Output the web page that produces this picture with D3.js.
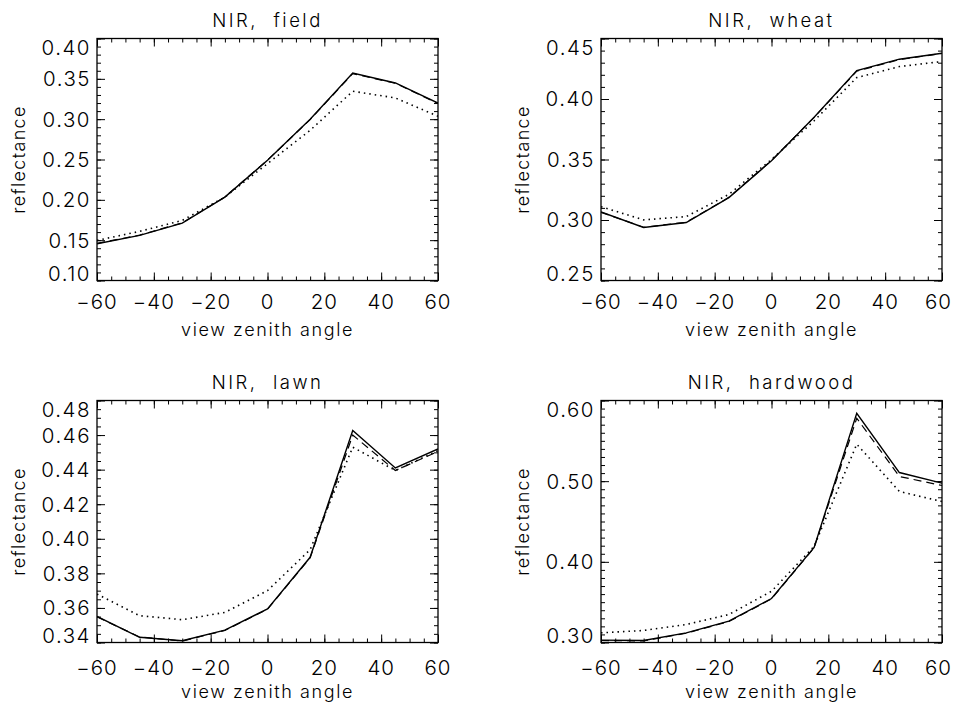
<!DOCTYPE html>
<html>
<head>
<meta charset="utf-8">
<script src="https://cdn.jsdelivr.net/npm/d3@7"></script>
<style>
  html, body { margin: 0; padding: 0; background: #fff; }
  svg { display: block; font-family: "Inter", "DejaVu Sans", sans-serif; font-weight: 300; }
  .tick line { stroke: #000; stroke-width: 1; }
</style>
</head>
<body>
<svg id="chart" width="954" height="707"></svg>
<script>
// View zenith angles (degrees) shared by every panel
const angles = [-60, -45, -30, -15, 0, 15, 30, 45, 60];
const xTickLabels = ["\u221260", "\u221240", "\u221220", "0", "20", "40", "60"];

// NIR reflectance, field
const fieldSolid  = [0.1456, 0.1559, 0.1712, 0.2034, 0.2490, 0.3000, 0.3573, 0.3449, 0.3200];
const fieldDashed = [0.1460, 0.1562, 0.1715, 0.2036, 0.2492, 0.2995, 0.3565, 0.3445, 0.3195];
const fieldDotted = [0.1497, 0.1609, 0.1745, 0.2034, 0.2449, 0.2862, 0.3346, 0.3263, 0.3036];
const fieldYTicks = ["0.10", "0.15", "0.20", "0.25", "0.30", "0.35", "0.40"];

// NIR reflectance, wheat
const wheatSolid  = [0.3066, 0.2938, 0.2979, 0.3185, 0.3490, 0.3850, 0.4235, 0.4329, 0.4378];
const wheatDashed = [0.3064, 0.2940, 0.2981, 0.3187, 0.3492, 0.3848, 0.4230, 0.4326, 0.4376];
const wheatDotted = [0.3110, 0.3001, 0.3028, 0.3212, 0.3500, 0.3820, 0.4177, 0.4268, 0.4310];
const wheatYTicks = ["0.25", "0.30", "0.35", "0.40", "0.45"];

// NIR reflectance, lawn
const lawnSolid  = [0.3551, 0.3430, 0.3410, 0.3472, 0.3594, 0.3893, 0.4626, 0.4410, 0.4520];
const lawnDashed = [0.3548, 0.3432, 0.3408, 0.3470, 0.3592, 0.3890, 0.4600, 0.4395, 0.4505];
const lawnDotted = [0.3680, 0.3555, 0.3532, 0.3574, 0.3700, 0.3937, 0.4530, 0.4395, 0.4510];
const lawnYTicks = ["0.34", "0.36", "0.38", "0.40", "0.42", "0.44", "0.46", "0.48"];

// NIR reflectance, hardwood
const hardwoodSolid  = [0.3030, 0.3025, 0.3120, 0.3264, 0.3545, 0.4179, 0.5842, 0.5107, 0.4976];
const hardwoodDashed = [0.3025, 0.3020, 0.3115, 0.3260, 0.3540, 0.4175, 0.5780, 0.5058, 0.4946];
const hardwoodDotted = [0.3120, 0.3149, 0.3223, 0.3347, 0.3635, 0.4192, 0.5458, 0.4872, 0.4748];
const hardwoodYTicks = ["0.30", "0.40", "0.50", "0.60"];

const W = 341, H = 242;
const TICK_FONT = 20.5, TITLE_FONT = 18.5, LABEL_FONT = 18;
const PAGE_W = 954;

const panels = [
  { title: "NIR,  field",    left: 97,  top: 38.5,  yLabels: fieldYTicks,    yMinor: 0.01,
    solid: fieldSolid, dashed: fieldDashed, dotted: fieldDotted },
  { title: "NIR,  wheat",    left: 601, top: 38.5,  yLabels: wheatYTicks,    yMinor: 0.01,
    solid: wheatSolid, dashed: wheatDashed, dotted: wheatDotted },
  { title: "NIR,  lawn",     left: 97,  top: 400.5, yLabels: lawnYTicks,     yMinor: 0.005,
    solid: lawnSolid, dashed: lawnDashed, dotted: lawnDotted },
  { title: "NIR,  hardwood", left: 601, top: 400.5, yLabels: hardwoodYTicks, yMinor: 0.01,
    solid: hardwoodSolid, dashed: hardwoodDashed, dotted: hardwoodDotted }
];

const svg = d3.select("#chart");

panels.forEach((p, i) => {
  const yMajor = p.yLabels.map(Number);
  const yDomain = [yMajor[0], yMajor[yMajor.length - 1]];
  const xMajor = xTickLabels.map(s => +s.replace("\u2212", "-"));

  const x = d3.scaleLinear().domain([-60, 60]).range([0, W]);
  const y = d3.scaleLinear().domain(yDomain).range([H, 0]);

  const g = svg.append("g").attr("transform", `translate(${p.left},${p.top})`);

  const xMinor = d3.range(-60, 60.001, 5);
  const nMinor = Math.round((yDomain[1] - yDomain[0]) / p.yMinor);
  const yMinorVals = d3.range(0, nMinor + 1).map(k => yDomain[0] + k * p.yMinor);

  // inward ticks on all four sides: minor then major
  const addAxis = (axis, transform) => {
    const a = g.append("g").attr("transform", transform).call(axis);
    a.select(".domain").remove();
    a.selectAll("text").remove();
    return a;
  };
  [[xMinor, 4], [xMajor, 8]].forEach(([vals, len]) => {
    addAxis(d3.axisTop(x).tickValues(vals).tickSize(len).tickFormat(""), `translate(0,${H})`);
    addAxis(d3.axisBottom(x).tickValues(vals).tickSize(len).tickFormat(""), "translate(0,0)");
  });
  [[yMinorVals, 4], [yMajor, 8]].forEach(([vals, len]) => {
    addAxis(d3.axisRight(y).tickValues(vals).tickSize(len).tickFormat(""), "translate(0,0)");
    addAxis(d3.axisLeft(y).tickValues(vals).tickSize(len).tickFormat(""), `translate(${W},0)`);
  });

  // frame
  g.append("rect")
    .attr("x", 0).attr("y", 0).attr("width", W).attr("height", H)
    .attr("fill", "none").attr("stroke", "#000").attr("stroke-width", 1.3);

  // y tick labels (end labels kept inside the frame height)
  const capH = TICK_FONT * 0.73;
  g.selectAll(".ylab").data(p.yLabels).join("text")
    .attr("class", "ylab")
    .attr("x", -6)
    .attr("y", (d, k) => {
      if (k === 0) return H;
      if (k === p.yLabels.length - 1) return 2 + capH;
      return y(+d) + capH / 2;
    })
    .attr("text-anchor", "end")
    .attr("font-size", TICK_FONT)
    .attr("letter-spacing", 1.5)
    .text(d => d);

  // x tick labels; a label that would run past the page edge is pulled back inside
  const xLabBase = i < 2 ? H + 28 : H + 32;
  g.selectAll(".xlab").data(xTickLabels).join("text")
    .attr("class", "xlab")
    .attr("x", d => x(+d.replace("\u2212", "-")))
    .attr("y", xLabBase)
    .attr("text-anchor", "middle")
    .attr("font-size", TICK_FONT)
    .attr("letter-spacing", 1)
    .text(d => d)
    .each(function () {
      const bb = this.getBBox();
      const overflow = p.left + bb.x + bb.width - (PAGE_W - 2);
      if (overflow > 0) d3.select(this).attr("x", +d3.select(this).attr("x") - overflow);
    });

  // title
  g.append("text")
    .attr("x", W / 2).attr("y", -11.5)
    .attr("text-anchor", "middle")
    .attr("font-size", TITLE_FONT)
    .attr("letter-spacing", 2.5)
    .style("white-space", "pre")
    .text(p.title);

  // axis titles
  g.append("text")
    .attr("x", W / 2).attr("y", H + 55)
    .attr("text-anchor", "middle")
    .attr("font-size", LABEL_FONT)
    .attr("letter-spacing", 1.6)
    .text("view zenith angle");

  g.append("text")
    .attr("transform", `translate(-72,${H / 2}) rotate(-90)`)
    .attr("text-anchor", "middle")
    .attr("font-size", LABEL_FONT)
    .attr("letter-spacing", 1.3)
    .text("reflectance");

  // curves
  const line = d3.line().x((d, k) => x(angles[k])).y(d => y(d));
  const clipId = `clip${i}`;
  g.append("clipPath").attr("id", clipId)
    .append("rect").attr("x", 0).attr("y", 0).attr("width", W).attr("height", H);
  const plot = g.append("g").attr("clip-path", `url(#${clipId})`);

  plot.append("path").datum(p.dashed)
    .attr("d", line).attr("fill", "none").attr("stroke", "#000")
    .attr("stroke-width", 1.2).attr("stroke-dasharray", "8,5");
  plot.append("path").datum(p.dotted)
    .attr("d", line).attr("fill", "none").attr("stroke", "#000")
    .attr("stroke-width", 1.6).attr("stroke-dasharray", "1.5,4");
  plot.append("path").datum(p.solid)
    .attr("d", line).attr("fill", "none").attr("stroke", "#000")
    .attr("stroke-width", 1.4);
});
</script>
</body>
</html>
